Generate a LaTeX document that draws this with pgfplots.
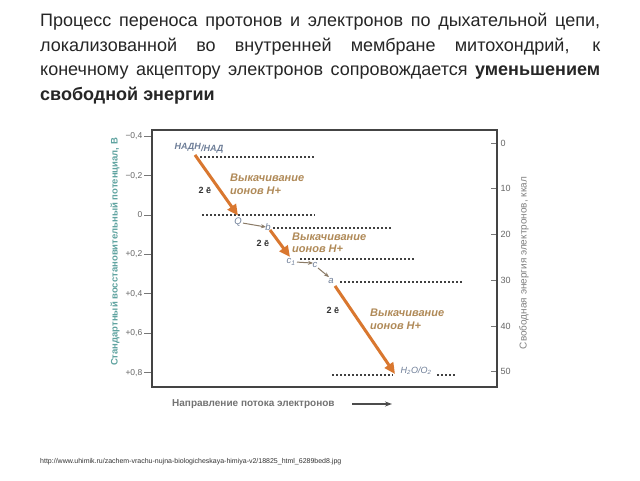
\documentclass[border=0pt]{standalone}
\usepackage{pgfplots}
\pgfplotsset{compat=1.18}
\usepackage{fontspec}
\setmainfont{Liberation Sans}
\usetikzlibrary{arrows.meta}
\definecolor{orng}{HTML}{D9772F}
\definecolor{tanc}{HTML}{B08A58}
\definecolor{lbl}{HTML}{6E7E98}
\definecolor{tealc}{HTML}{5FA3A0}
\definecolor{frm}{HTML}{444444}
\definecolor{tickc}{HTML}{777777}
\definecolor{thinc}{HTML}{8A7A66}
\begin{document}
\begin{tikzpicture}[x=1pt,y=1pt]
\path[use as bounding box,fill=white] (0,0) rectangle (640,480);
% title
\node[anchor=base west,inner sep=0pt,text width=560pt,align=justify,text=black!85,
  font=\fontsize{18}{24.4}\selectfont] at (40,453)
 {\hyphenpenalty=10000 Процесс переноса протонов и электронов по дыхательной цепи,\linebreak локализованной во внутренней мембране митохондрий, к\linebreak конечному акцептору электронов сопровождается \textbf{уменьшением}\linebreak \textbf{свободной энергии}\par};
% URL
\node[anchor=base west,inner sep=0pt,font=\fontsize{7}{8}\selectfont,text=black!80] at (40,17)
 {http://www.uhimik.ru/zachem-vrachu-nujna-biologicheskaya-himiya-v2/18825\_html\_6289bed8.jpg};
% axis labels
\node[rotate=90,inner sep=0pt,font=\bfseries\fontsize{9.5}{11}\selectfont,text=tealc] at (115,228)
 {Стандартный восстановительный потенциал, В};
\node[rotate=90,inner sep=0pt,font=\fontsize{10}{11}\selectfont,text=black!50] at (524,217)
 {Свободная энергия электронов, ккал};
\node[anchor=west,inner sep=0pt,font=\bfseries\fontsize{10}{11}\selectfont,text=black!55] at (172,76)
 {Направление потока электронов};
\draw[black!70,line width=1.2pt,-{Stealth[length=7pt,width=5pt]}] (352,76) -- (392,76);
% main axis
\begin{axis}[at={(152pt,93pt)},anchor=south west,width=345pt,height=257pt,scale only axis,
  xmin=152,xmax=497,ymin=-0.4315,ymax=0.873,y dir=reverse,clip=false,
  axis line style={frm,line width=1.5pt},
  xtick=\empty,ytick={-0.4,-0.2,0,0.2,0.4,0.6,0.8},
  yticklabels={{−0,4},{−0,2},{0},{+0,2},{+0,4},{+0,6},{+0,8}},
  ytick pos=left,tick align=outside,major tick length=8pt,
  tick style={tickc,line width=1pt},
  yticklabel style={font=\fontsize{8.5}{10}\selectfont,text=black!60,inner xsep=1.5pt}]
% energy levels
\addplot[black!75,line width=1.2pt,dash pattern=on 2pt off 2pt] coordinates {(200,-0.294) (315,-0.294)};
\addplot[black!75,line width=1.2pt,dash pattern=on 2pt off 2pt] coordinates {(202,0) (315,0)};
\addplot[black!75,line width=1.2pt,dash pattern=on 2pt off 2pt] coordinates {(273,0.066) (392,0.066)};
\addplot[black!75,line width=1.2pt,dash pattern=on 2pt off 2pt] coordinates {(300,0.223) (415,0.223)};
\addplot[black!75,line width=1.2pt,dash pattern=on 2pt off 2pt] coordinates {(340,0.340) (462,0.340)};
\addplot[black!75,line width=1.2pt,dash pattern=on 2pt off 2pt] coordinates {(332,0.812) (393,0.812)};
\addplot[black!75,line width=1.2pt,dash pattern=on 2pt off 2pt] coordinates {(437,0.812) (456,0.812)};
% orange arrows
\addplot[orng,line width=3pt,-{Triangle[length=11pt,width=10pt]}] coordinates {(195,-0.305) (238,0.003)};
\addplot[orng,line width=3pt,-{Triangle[length=11pt,width=10pt]}] coordinates {(270,0.076) (290,0.213)};
\addplot[orng,line width=3pt,-{Triangle[length=11pt,width=10pt]}] coordinates {(335,0.360) (395,0.807)};
% thin arrows
\addplot[thinc,line width=1pt,-{Stealth[length=5pt,width=4pt]}] coordinates {(243,0.041) (266,0.061)};
\addplot[thinc,line width=1pt,-{Stealth[length=5pt,width=4pt]}] coordinates {(297,0.239) (313,0.244)};
\addplot[thinc,line width=1pt,-{Stealth[length=5pt,width=4pt]}] coordinates {(318,0.269) (329,0.315)};
% labels
\node[font=\bfseries\itshape\fontsize{9}{10}\selectfont,text=lbl,inner sep=0pt] at (axis cs:199,-0.34)
 {НАДН\raisebox{-2pt}{/НАД}};
\node[anchor=west,align=left,font=\bfseries\itshape\fontsize{11}{12.5}\selectfont,text=tanc,inner sep=0pt] at (axis cs:230,-0.157)
 {Выкачивание\\ионов Н+};
\node[anchor=west,align=left,font=\bfseries\itshape\fontsize{11}{12.5}\selectfont,text=tanc,inner sep=0pt] at (axis cs:292,0.142)
 {Выкачивание\\ионов Н+};
\node[anchor=west,align=left,font=\bfseries\itshape\fontsize{11}{12.5}\selectfont,text=tanc,inner sep=0pt] at (axis cs:370,0.53)
 {Выкачивание\\ионов Н+};
\node[font=\bfseries\fontsize{9}{10}\selectfont,text=black!80,inner sep=0pt] at (axis cs:205,-0.127) {2 ē};
\node[font=\bfseries\fontsize{9}{10}\selectfont,text=black!80,inner sep=0pt] at (axis cs:263,0.142) {2 ē};
\node[font=\bfseries\fontsize{9}{10}\selectfont,text=black!80,inner sep=0pt] at (axis cs:333,0.482) {2 ē};
\node[font=\itshape\fontsize{9.5}{10}\selectfont,text=lbl,inner sep=0pt] at (axis cs:238,0.036) {Q};
\node[font=\itshape\fontsize{9.5}{10}\selectfont,text=lbl,inner sep=0pt] at (axis cs:268,0.061) {b};
\node[font=\itshape\fontsize{9.5}{10}\selectfont,text=lbl,inner sep=0pt] at (axis cs:291,0.239) {c\textsubscript{1}};
\node[font=\itshape\fontsize{9.5}{10}\selectfont,text=lbl,inner sep=0pt] at (axis cs:315,0.254) {c};
\node[font=\itshape\fontsize{9.5}{10}\selectfont,text=lbl,inner sep=0pt] at (axis cs:331,0.335) {a};
\node[font=\itshape\fontsize{9}{10}\selectfont,text=lbl,inner sep=0pt] at (axis cs:416,0.792) {H\textsubscript{2}O/O\textsubscript{2}};
\end{axis}
% right axis
\begin{axis}[at={(152pt,93pt)},anchor=south west,width=345pt,height=257pt,scale only axis,
  xmin=0,xmax=1,ymin=-2.84,ymax=53.3,y dir=reverse,
  axis x line=none,axis y line*=right,
  axis line style={frm,line width=1.5pt},
  ytick={0,10,20,30,40,50},
  tick align=inside,major tick length=6pt,
  tick style={tickc,line width=1pt},
  yticklabel style={font=\fontsize{9}{11}\selectfont,text=black!60},
  /pgf/number format/assume math mode=true]
\addplot[draw=none] coordinates {(0,0) (1,50)};
\end{axis}
\end{tikzpicture}
\end{document}
